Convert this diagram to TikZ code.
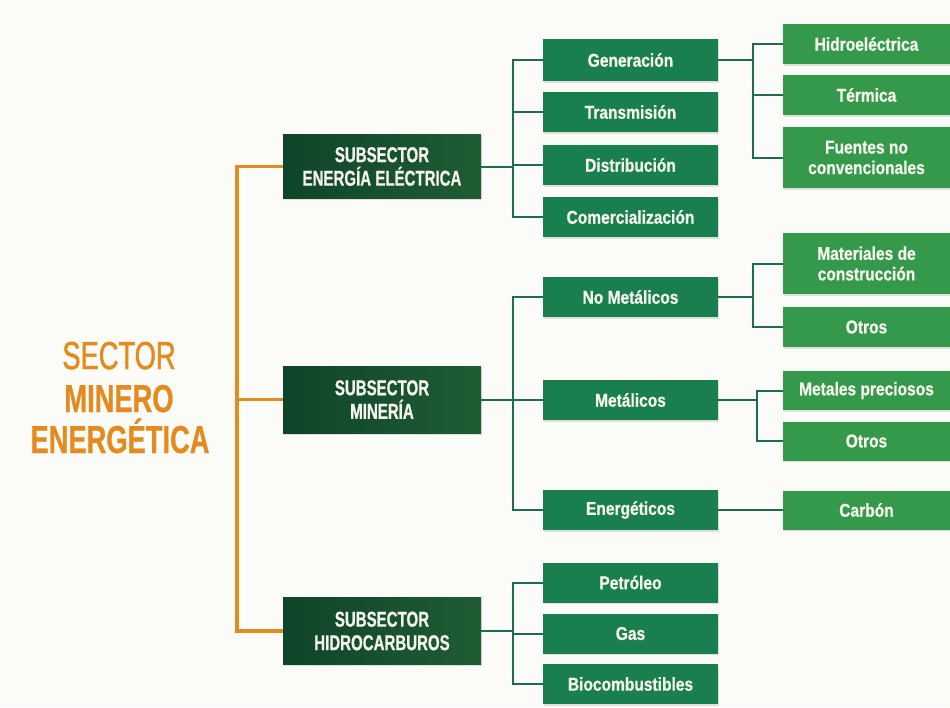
\documentclass[tikz,border=0pt]{standalone}
\usepackage{fontspec}
\setmainfont{Liberation Sans}
\newfontfamily\boxfont{Liberation Sans}[FakeStretch=0.84,FakeBold=0.8]
\newfontfamily\subfont{Liberation Sans}[FakeStretch=0.7,FakeBold=0.8]
\newfontfamily\ttlfont{Liberation Sans}[FakeStretch=0.7,FakeBold=0.6]
\newfontfamily\ttlmedfont{Liberation Sans}[FakeStretch=0.7,FakeBold=1.2]
\usetikzlibrary{shadows}
\definecolor{bgc}{HTML}{FBFBF7}
\definecolor{orng}{HTML}{E38B1F}
\definecolor{dkA}{HTML}{0F4529}
\definecolor{dkB}{HTML}{1F5C34}
\definecolor{lvtwo}{HTML}{1A7F4E}
\definecolor{lvthree}{HTML}{34994A}
\definecolor{conncol}{HTML}{1F6B4E}
\definecolor{txtc}{HTML}{F4F4EC}
\tikzset{
  shd/.style={drop shadow={shadow xshift=0.8pt,shadow yshift=-1.5pt,opacity=0.22}},
  subbox/.style={shd,rectangle,left color=dkA,right color=dkB,minimum width=198pt,
    text=txtc,align=center,inner sep=0pt,
    font=\subfont\bfseries\fontsize{21.5}{23.5}\selectfont},
  twobox/.style={shd,rectangle,fill=lvtwo,minimum width=175pt,minimum height=40pt,
    text=txtc,align=center,inner sep=0pt,
    font=\boxfont\bfseries\fontsize{18.5}{20.5}\selectfont},
  threebox/.style={shd,rectangle,fill=lvthree,minimum width=167pt,minimum height=39pt,
    text=txtc,align=center,inner sep=0pt,
    font=\boxfont\bfseries\fontsize{18.5}{20.5}\selectfont},
  conn/.style={draw=conncol,line width=2pt},
  oconn/.style={draw=orng,line width=3.5pt},
  ttl/.style={text=orng,anchor=base,inner sep=0pt}
}
\begin{document}
\begin{tikzpicture}[x=1pt,y=-1pt]
\fill[bgc] (0,0) rectangle (950,707);
\useasboundingbox (0,0) rectangle (950,707);

% title
\node[ttl,font=\ttlmedfont\fontsize{39}{42}\selectfont] (t1) at (119,369) {SECTOR};
\node[ttl,font=\ttlfont\bfseries\fontsize{39}{42}\selectfont] (t2) at (119,412) {MINERO};
\node[ttl,font=\ttlfont\bfseries\fontsize{39}{42}\selectfont] (t3) at (120,453) {ENERGÉTICA};

% subsectors
\node[subbox,minimum height=64pt] (ee) at (382,166.5) {SUBSECTOR\\ENERGÍA ELÉCTRICA};
\node[subbox,minimum height=67pt] (mi) at (382,399.5) {SUBSECTOR\\MINERÍA};
\node[subbox,minimum height=67pt] (hc) at (382,631) {SUBSECTOR\\HIDROCARBUROS};

% level 2
\node[twobox,minimum height=42pt] (gen) at (630.5,60) {Generación};
\node[twobox] (tra) at (630.5,112) {Transmisión};
\node[twobox] (dis) at (630.5,165) {Distribución};
\node[twobox] (com) at (630.5,217) {Comercialización};
\node[twobox] (nom) at (630.5,297) {No Metálicos};
\node[twobox] (met) at (630.5,400) {Metálicos};
\node[twobox] (ene) at (630.5,510) {Energéticos};
\node[twobox] (pet) at (630.5,582.5) {Petróleo};
\node[twobox] (gas) at (630.5,633.5) {Gas};
\node[twobox] (bio) at (630.5,684) {Biocombustibles};

% level 3
\node[threebox,minimum height=40pt] (hid) at (866.5,44) {Hidroeléctrica};
\node[threebox,minimum height=40pt] (ter) at (866.5,95) {Térmica};
\node[threebox,minimum height=61pt] (fue) at (866.5,157.5) {Fuentes no\\convencionales};
\node[threebox,minimum height=61pt] (mat) at (866.5,263.5) {Materiales de\\construcción};
\node[threebox,minimum height=40pt] (ota) at (866.5,327) {Otros};
\node[threebox] (mep) at (866.5,390.5) {Metales preciosos};
\node[threebox] (otb) at (866.5,441) {Otros};
\node[threebox] (car) at (866.5,510) {Carbón};

% junction x positions
\coordinate (jo) at (237,0);
\coordinate (ja) at (513,0);
\coordinate (jb) at (753,0);
\coordinate (jc) at (757,0);

% orange trunk
\draw[oconn,line join=miter] (ee.west) -- (ee.west -| jo) -- (hc.west -| jo) -- (hc.west);
\draw[oconn] (mi.west) -- (mi.west -| jo);

% subsector -> level 2
\draw[conn] (gen.west) -- (gen.west -| ja) -- (com.west -| ja) -- (com.west);
\draw[conn] (tra.west) -- (tra.west -| ja);
\draw[conn] (dis.west) -- (dis.west -| ja);
\draw[conn] (ee.east) -- (ee.east -| ja);

\draw[conn] (nom.west) -- (nom.west -| ja) -- (ene.west -| ja) -- (ene.west);
\draw[conn] (met.west) -- (met.west -| ja);
\draw[conn] (mi.east) -- (mi.east -| ja);

\draw[conn] (pet.west) -- (pet.west -| ja) -- (bio.west -| ja) -- (bio.west);
\draw[conn] (gas.west) -- (gas.west -| ja);
\draw[conn] (hc.east) -- (hc.east -| ja);

% level 2 -> level 3
\draw[conn] (hid.west) -- (hid.west -| jb) -- (fue.west -| jb) -- (fue.west);
\draw[conn] (ter.west) -- (ter.west -| jb);
\draw[conn] (gen.east) -- (gen.east -| jb);

\draw[conn] (mat.west) -- (mat.west -| jb) -- (ota.west -| jb) -- (ota.west);
\draw[conn] (nom.east) -- (nom.east -| jb);

\draw[conn] (mep.west) -- (mep.west -| jc) -- (otb.west -| jc) -- (otb.west);
\draw[conn] (met.east) -- (met.east -| jc);

\draw[conn] (ene.east) -- (car.west);
\end{tikzpicture}
\end{document}
